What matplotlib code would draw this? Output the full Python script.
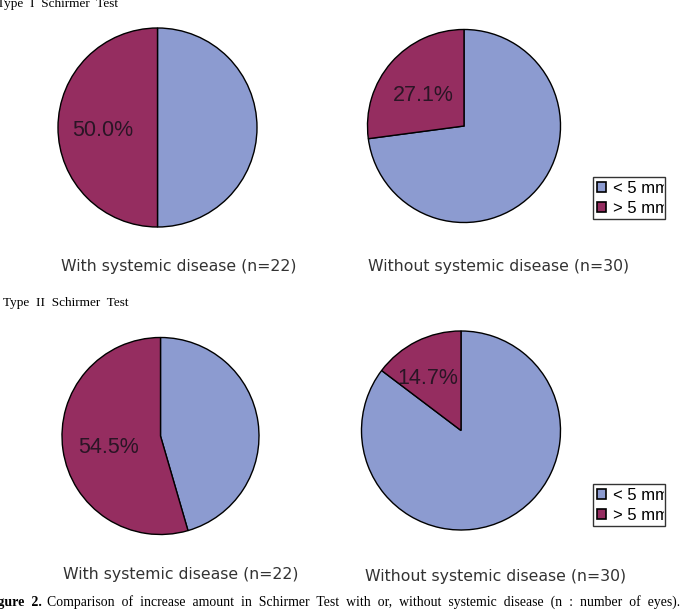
import matplotlib
matplotlib.use("Agg")
import matplotlib.pyplot as plt
from matplotlib.patches import Patch
from matplotlib.transforms import Bbox, TransformedBbox

W, H = 690, 613

categories = ["< 5 mm", "> 5 mm"]
colors = ["#8C9BD0", "#952D60"]

# values (percent) for each pie: [< 5 mm, > 5 mm]
type1_with = [50.0, 50.0]
type1_without = [72.9, 27.1]
type2_with = [45.5, 54.5]
type2_without = [85.3, 14.7]

subtitles = ["With systemic disease (n=22)", "Without systemic disease (n=30)"]

fig = plt.figure(figsize=(W / 100, H / 100), dpi=100)
fig.patch.set_facecolor("white")


def px_axes(cx, cy, r):
    return fig.add_axes([(cx - r) / W, (H - cy - r) / H, 2 * r / W, 2 * r / H])


def draw_pie(cx, cy, r, vals, lab_xy):
    ax = px_axes(cx, cy, r)
    ax.pie(vals, colors=colors, startangle=90, counterclock=False,
           wedgeprops=dict(edgecolor="black", linewidth=1.0))
    ax.set_xlim(-1.005, 1.005)
    ax.set_ylim(-1.005, 1.005)
    ax.set_aspect("auto")
    ax.axis("off")
    ax.text(lab_xy[0], lab_xy[1], f"{vals[1]:.1f}%", ha="center", va="center",
            fontsize=15.5, family="Liberation Sans", color="#2a1525")
    return ax


draw_pie(157.5, 127.5, 100, type1_with, (-0.555, -0.03))
draw_pie(464, 126, 97, type1_without, (-0.42, 0.32))
draw_pie(160.5, 436, 99, type2_with, (-0.53, -0.12))
draw_pie(461, 430.5, 100, type2_without, (-0.33, 0.52))

sub_kw = dict(fontsize=11.3, family="DejaVu Sans", color="#333333", va="center", ha="center")
fig.text(179 / W, 1 - 266 / H, subtitles[0], **sub_kw)
fig.text(499 / W, 1 - 266 / H, subtitles[1], **sub_kw)
fig.text(181 / W, 1 - 575 / H, subtitles[0], **sub_kw)
fig.text(496 / W, 1 - 577 / H, subtitles[1], **sub_kw)

title_kw = dict(fontsize=9.5, family="Liberation Serif", color="black", va="baseline", ha="left")
fig.text(-3 / W, 1 - 7 / H, "Type  I  Schirmer  Test", **title_kw)
fig.text(3 / W, 1 - 306 / H, "Type  II  Schirmer  Test", **title_kw)

handles = [Patch(facecolor=c, edgecolor="black", linewidth=1.2) for c in colors]
for top, bottom in ((177, 219), (484, 526)):
    x0, x1 = 593, 665
    leg = fig.legend(handles, categories, loc="upper left",
                     bbox_to_anchor=(x0 / W, 1 - bottom / H, (x1 - x0) / W, (bottom - top) / H),
                     mode="expand",
                     frameon=True, fancybox=False, edgecolor="black",
                     prop=dict(family="Liberation Sans", size=12),
                     handlelength=0.55, handleheight=0.55, handletextpad=0.45,
                     borderpad=0.22, labelspacing=0.3, borderaxespad=0)
    leg.get_frame().set_linewidth(1.0)
    clip = TransformedBbox(Bbox([[x0 / W, 0], [(x1 - 1) / W, 1]]), fig.transFigure)
    for t in leg.get_texts():
        t.set_clip_box(clip)
        t.set_clip_on(True)

fig.text(42 / W, 1 - 606 / H, "Figure  2.", fontsize=10, family="Liberation Serif",
         weight="bold", ha="right", va="baseline")
fig.text(47 / W, 1 - 606 / H,
         "Comparison  of  increase  amount  in  Schirmer  Test  with  or,  without  systemic  disease  (n  :  number  of  eyes).",
         fontsize=9.9, family="Liberation Serif", ha="left", va="baseline")

fig.savefig("out.png", dpi=100, facecolor="white")
